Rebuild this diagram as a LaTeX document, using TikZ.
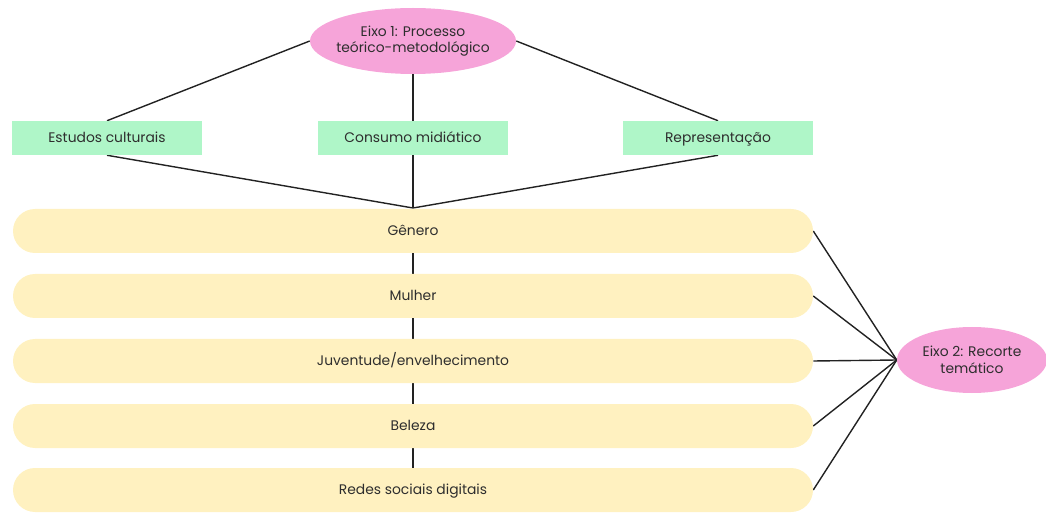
\documentclass[tikz,border=0pt]{standalone}
\usepackage{fontspec}
\setmainfont{Poppins}
\usetikzlibrary{shapes.geometric,backgrounds}
\definecolor{pinkfill}{HTML}{F6A4D9}
\definecolor{greenfill}{HTML}{AFF6C8}
\definecolor{yellowfill}{HTML}{FFF1C0}
\definecolor{txt}{HTML}{2E2E2E}
\definecolor{linec}{HTML}{222222}
\tikzset{
  axis/.style={ellipse, fill=pinkfill, inner sep=0pt, align=center, text=txt, font=\fontsize{10.4}{12.6}\selectfont},
  topic/.style={rectangle, fill=greenfill, minimum width=142.5pt, minimum height=25.5pt, inner sep=0pt, text height=1.6ex, text depth=0.3ex, text=txt, font=\fontsize{10.4}{12.6}\selectfont},
  theme/.style={rectangle, rounded corners=16.5pt, fill=yellowfill, minimum width=600pt, minimum height=33pt, inner sep=0pt, text height=1.6ex, text depth=0.3ex, text=txt, font=\fontsize{10.4}{12.6}\selectfont},
  conn/.style={draw=linec, line width=1.05pt}
}
\begin{document}
\begin{tikzpicture}[x=0.75pt,y=-0.75pt]
\useasboundingbox (0,0) rectangle (1046,513);
\node[axis, inner xsep=-3.5pt, minimum width=154.5pt, minimum height=49.5pt] (e1) at (413,41) {Eixo 1: Processo\\teórico-metodológico};
\node[topic] (ec) at (107,138) {Estudos culturais};
\node[topic] (cm) at (413,138) {Consumo midiático};
\node[topic] (rp) at (718,138) {Representação};
\node[theme] (t1) at (413,231) {Gênero};
\node[theme] (t2) at (413,296) {Mulher};
\node[theme] (t3) at (413,361) {Juventude/envelhecimento};
\node[theme] (t4) at (413,426) {Beleza};
\node[theme] (t5) at (413,490) {Redes sociais digitais};
\node[axis, minimum width=112.5pt, minimum height=49.5pt] (e2) at (972,360) {Eixo 2: Recorte\\temático};
\coordinate (j) at (413,208);
\begin{pgfonlayer}{background}
\draw[conn] (e1.west) -- (ec.north);
\draw[conn] (e1.east) -- (rp.north);
\draw[conn] (e1.south) -- (j);
\draw[conn] (ec.south) -- (j);
\draw[conn] (rp.south) -- (j);
\draw[conn] (t1.south) -- (t2.north);
\draw[conn] (t2.south) -- (t3.north);
\draw[conn] (t3.south) -- (t4.north);
\draw[conn] (t4.south) -- (t5.north);
\foreach \t in {t1,t2,t3,t4,t5} \draw[conn] (\t.east) -- (e2.west);
\end{pgfonlayer}
\end{tikzpicture}
\end{document}
